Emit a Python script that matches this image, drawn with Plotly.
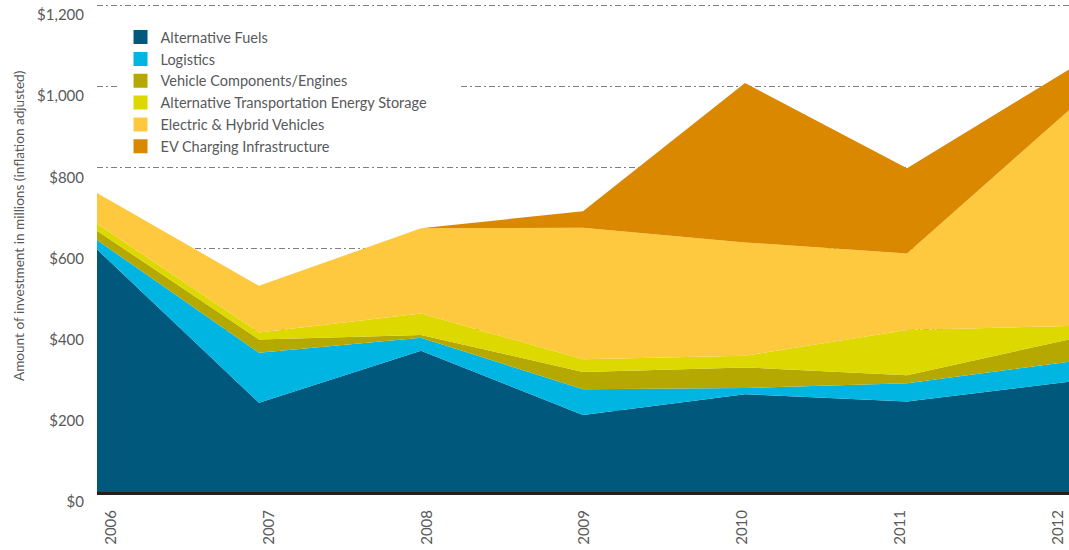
import plotly.graph_objects as go

years = [2006, 2007, 2008, 2009, 2010, 2011, 2012]
alt_fuels = [598, 220, 348, 190, 241, 223, 272]
logistics = [23, 123, 32, 63, 15, 45, 49]
vehicle_components = [23, 33, 7, 43, 51, 20, 55]
energy_storage = [17, 17, 53, 31, 29, 111, 33]
electric_hybrid = [76, 115, 210, 324, 279, 189, 532]
ev_charging = [0, 0, 0, 41, 393, 210, 100]

series_names = [
    "Alternative Fuels",
    "Logistics",
    "Vehicle Components/Engines",
    "Alternative Transportation Energy Storage",
    "Electric & Hybrid Vehicles",
    "EV Charging Infrastructure",
]
series_values = [alt_fuels, logistics, vehicle_components, energy_storage, electric_hybrid, ev_charging]
colors = ["#00587c", "#00b5e2", "#b5a800", "#dcd800", "#fec93f", "#d98800"]

y_tickvals = [0, 200, 400, 600, 800, 1000, 1200]
y_ticktext = ["$0", "$200", "$400", "$600", "$800", "$1,000", "$1,200"]

FONT = "Lato"
TXT = "#58595b"

fig = go.Figure()
for name, vals, col in zip(series_names, series_values, colors):
    fig.add_trace(go.Scatter(
        x=years, y=vals, stackgroup="one", mode="none",
        fillcolor=col, line=dict(width=0), name=name,
        showlegend=False, hoverinfo="x+y+name",
    ))
for name, col in zip(series_names, colors):
    fig.add_trace(go.Scatter(
        x=[None], y=[None], mode="markers", name=name,
        marker=dict(symbol="square", size=14, color=col),
        showlegend=True,
    ))
# helper trace for the label axis
fig.add_trace(go.Scatter(x=years, y=[0] * len(years), xaxis="x2", mode="none",
                         showlegend=False, hoverinfo="skip"))

fig.update_layout(
    width=1069, height=550,
    margin=dict(l=97, r=0, t=1, b=58),
    paper_bgcolor="white", plot_bgcolor="white",
    font=dict(family=FONT, color=TXT),
    xaxis=dict(range=[2006, 2012], showgrid=False, zeroline=False,
               showticklabels=False, showline=True, linecolor="#231f20",
               linewidth=3, ticks="", automargin=False),
    xaxis2=dict(overlaying="x", anchor="y", side="bottom",
                range=[2005.9113, 2012.0697], tickvals=years,
                ticktext=[str(y) for y in years], tickangle=-90,
                showgrid=False, zeroline=False, showline=False, ticks="",
                tickfont=dict(size=15, color=TXT, family=FONT),
                ticklabelstandoff=14, automargin=False),
    yaxis=dict(range=[0, 1210], tickvals=y_tickvals, ticktext=y_ticktext,
               showgrid=True, gridcolor="#808080", gridwidth=1.3,
               griddash="6px,3px,2px,3px", zeroline=False, showline=False,
               ticks="", tickfont=dict(size=15, color=TXT, family=FONT),
               ticklabelstandoff=12, ticklabelshift=10, automargin=False),
    legend=dict(x=0.0242, y=0.959, xanchor="left", yanchor="top",
                bgcolor="rgba(0,0,0,0)", font=dict(size=14.5, color=TXT, family=FONT),
                traceorder="normal", tracegroupgap=0),
    shapes=[dict(type="rect", xref="paper", yref="paper",
                 x0=0.0237, x1=0.3714, y0=0.68, y1=0.961,
                 fillcolor="white", line=dict(width=0), layer="above")],
    annotations=[dict(
        text="Amount of investment in millions (inflation adjusted)",
        xref="paper", yref="paper", x=-0.0802, y=0.5418, textangle=-90,
        showarrow=False, font=dict(size=13.6, color=TXT, family=FONT),
        xanchor="center", yanchor="middle")],
)

fig.write_html("out.html", post_script="document.body.style.margin='0';",
               config={"displayModeBar": False})
